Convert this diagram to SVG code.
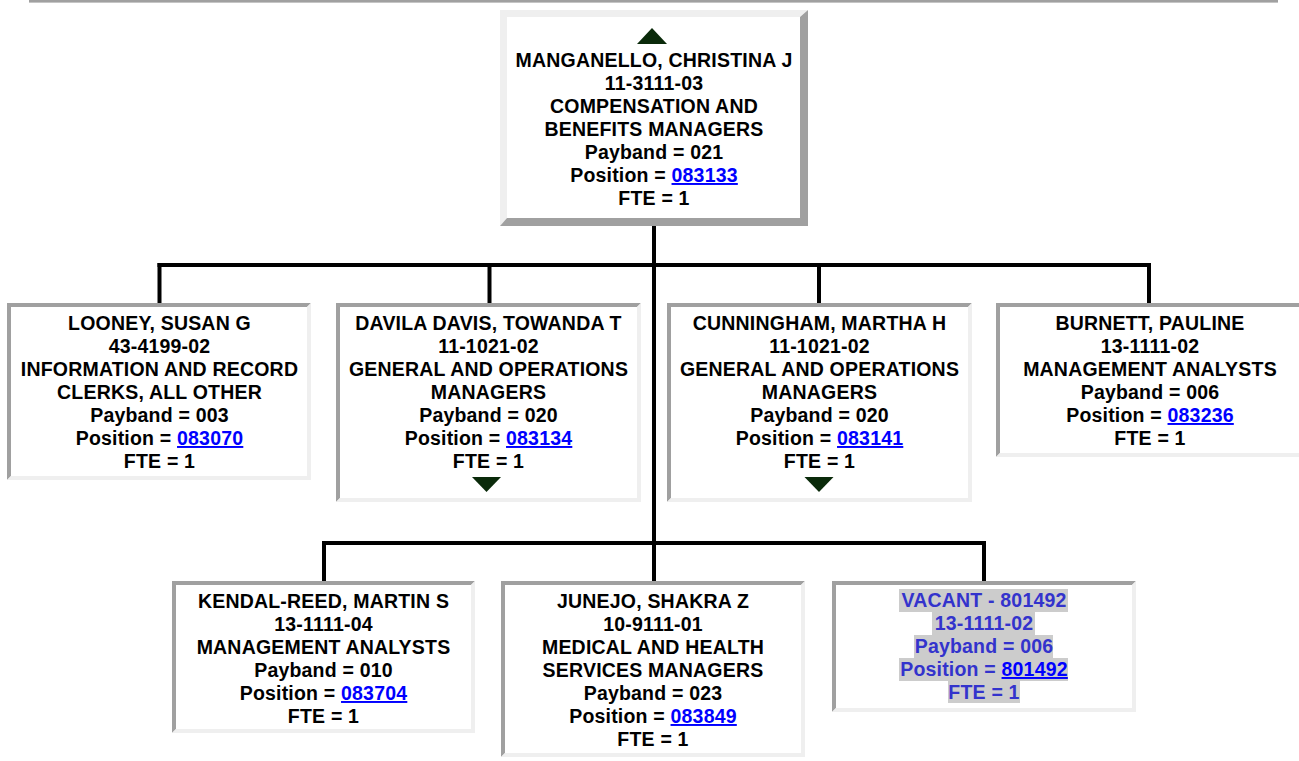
<svg xmlns="http://www.w3.org/2000/svg" width="1299" height="761" viewBox="0 0 1299 761">
<style>
  text { font-family: "Liberation Sans", Arial, sans-serif; font-weight: bold; font-size: 19.5px; letter-spacing: 0.2px; text-anchor: middle; fill: #000; }
  .lnk { fill: #0000ff; text-decoration: underline; }
  .vac { fill: #3333cc; }
  .hl { fill: #cccccc; }
  .dk { fill: #a0a0a0; }
  .lt { fill: #efefef; }
  .tri { fill: #0a2a0a; }
  .con { stroke: #000; stroke-width: 4; fill: none; stroke-linecap: square; }
</style>
<rect width="1299" height="761" fill="#ffffff"/>
<rect x="29" y="0" width="1249" height="2.6" fill="#a0a0a0"/>

<g id="connectors">
  <path class="con" d="M654 226 V579"/>
  <path class="con" d="M159.5 265 H1149"/>
  <path class="con" d="M159.5 265 V301"/>
  <path class="con" d="M489.5 265 V301"/>
  <path class="con" d="M819 265 V301"/>
  <path class="con" d="M1149 265 V301"/>
  <path class="con" d="M324 543 H984"/>
  <path class="con" d="M324 543 V579"/>
  <path class="con" d="M984 543 V579"/>
</g>

<g id="node-manganello">
  <rect x="500" y="10" width="308" height="216" fill="#ffffff"/>
  <polygon class="lt" points="500,10 808,10 800,17 507,17 507,218 500,226"/>
  <polygon class="dk" points="808,10 808,226 500,226 507,218 800,218 800,17"/>
  <polygon class="tri" points="652,28 667,44 637,44"/>
  <text x="654" y="67">MANGANELLO, CHRISTINA J</text>
  <text x="654" y="90">11-3111-03</text>
  <text x="654" y="113">COMPENSATION AND</text>
  <text x="654" y="136">BENEFITS MANAGERS</text>
  <text x="654" y="159">Payband = 021</text>
  <text x="654" y="182">Position = <tspan class="lnk">083133</tspan></text>
  <text x="654" y="205">FTE = 1</text>
</g>

<g id="node-looney">
  <rect x="7" y="303" width="304" height="177" fill="#ffffff"/>
  <polygon class="dk" points="7,303 311,303 307,307 11,307 11,476 7,480"/>
  <polygon class="lt" points="311,303 311,480 7,480 11,476 307,476 307,307"/>
  <text x="159.5" y="330">LOONEY, SUSAN G</text>
  <text x="159.5" y="353">43-4199-02</text>
  <text x="159.5" y="376">INFORMATION AND RECORD</text>
  <text x="159.5" y="399">CLERKS, ALL OTHER</text>
  <text x="159.5" y="422">Payband = 003</text>
  <text x="159.5" y="445">Position = <tspan class="lnk">083070</tspan></text>
  <text x="159.5" y="468">FTE = 1</text>
</g>

<g id="node-davila">
  <rect x="336" y="303" width="305" height="199" fill="#ffffff"/>
  <polygon class="dk" points="336,303 641,303 637,307 340,307 340,498 336,502"/>
  <polygon class="lt" points="641,303 641,502 336,502 340,498 637,498 637,307"/>
  <text x="488.5" y="330">DAVILA DAVIS, TOWANDA T</text>
  <text x="488.5" y="353">11-1021-02</text>
  <text x="488.5" y="376">GENERAL AND OPERATIONS</text>
  <text x="488.5" y="399">MANAGERS</text>
  <text x="488.5" y="422">Payband = 020</text>
  <text x="488.5" y="445">Position = <tspan class="lnk">083134</tspan></text>
  <text x="488.5" y="468">FTE = 1</text>
  <polygon class="tri" points="472,477 501,477 486.5,492"/>
</g>

<g id="node-cunningham">
  <rect x="667" y="303" width="305" height="199" fill="#ffffff"/>
  <polygon class="dk" points="667,303 972,303 968,307 671,307 671,498 667,502"/>
  <polygon class="lt" points="972,303 972,502 667,502 671,498 968,498 968,307"/>
  <text x="819.5" y="330">CUNNINGHAM, MARTHA H</text>
  <text x="819.5" y="353">11-1021-02</text>
  <text x="819.5" y="376">GENERAL AND OPERATIONS</text>
  <text x="819.5" y="399">MANAGERS</text>
  <text x="819.5" y="422">Payband = 020</text>
  <text x="819.5" y="445">Position = <tspan class="lnk">083141</tspan></text>
  <text x="819.5" y="468">FTE = 1</text>
  <polygon class="tri" points="804.5,477 833.5,477 819,492"/>
</g>

<g id="node-burnett">
  <rect x="996" y="303" width="308" height="154" fill="#ffffff"/>
  <polygon class="dk" points="996,303 1304,303 1300,307 1000,307 1000,453 996,457"/>
  <polygon class="lt" points="1304,303 1304,457 996,457 1000,453 1300,453 1300,307"/>
  <text x="1150" y="330">BURNETT, PAULINE</text>
  <text x="1150" y="353">13-1111-02</text>
  <text x="1150" y="376">MANAGEMENT ANALYSTS</text>
  <text x="1150" y="399">Payband = 006</text>
  <text x="1150" y="422">Position = <tspan class="lnk">083236</tspan></text>
  <text x="1150" y="445">FTE = 1</text>
</g>

<g id="node-kendal-reed">
  <rect x="172" y="581" width="303" height="152" fill="#ffffff"/>
  <polygon class="dk" points="172,581 475,581 471,585 176,585 176,729 172,733"/>
  <polygon class="lt" points="475,581 475,733 172,733 176,729 471,729 471,585"/>
  <text x="323.5" y="608">KENDAL-REED, MARTIN S</text>
  <text x="323.5" y="631">13-1111-04</text>
  <text x="323.5" y="654">MANAGEMENT ANALYSTS</text>
  <text x="323.5" y="677">Payband = 010</text>
  <text x="323.5" y="700">Position = <tspan class="lnk">083704</tspan></text>
  <text x="323.5" y="723">FTE = 1</text>
</g>

<g id="node-junejo">
  <rect x="501" y="581" width="304" height="176" fill="#ffffff"/>
  <polygon class="dk" points="501,581 805,581 801,585 505,585 505,753 501,757"/>
  <polygon class="lt" points="805,581 805,757 501,757 505,753 801,753 801,585"/>
  <text x="653" y="608">JUNEJO, SHAKRA Z</text>
  <text x="653" y="631">10-9111-01</text>
  <text x="653" y="654">MEDICAL AND HEALTH</text>
  <text x="653" y="677">SERVICES MANAGERS</text>
  <text x="653" y="700">Payband = 023</text>
  <text x="653" y="723">Position = <tspan class="lnk">083849</tspan></text>
  <text x="653" y="746">FTE = 1</text>
</g>

<g id="node-vacant">
  <rect x="832" y="581" width="304" height="131" fill="#ffffff"/>
  <polygon class="dk" points="832,581 1136,581 1132,585 836,585 836,708 832,712"/>
  <polygon class="lt" points="1136,581 1136,712 832,712 836,708 1132,708 1132,585"/>
  <rect class="hl" x="899" y="589" width="169" height="23"/>
  <rect class="hl" x="932" y="612" width="103" height="23"/>
  <rect class="hl" x="914" y="635" width="139" height="23"/>
  <rect class="hl" x="899" y="658" width="169" height="23"/>
  <rect class="hl" x="948" y="681" width="72" height="22"/>
  <text class="vac" x="984" y="607">VACANT - 801492</text>
  <text class="vac" x="984" y="630">13-1111-02</text>
  <text class="vac" x="984" y="653">Payband = 006</text>
  <text class="vac" x="984" y="676">Position = <tspan class="lnk">801492</tspan></text>
  <text class="vac" x="984" y="699">FTE = 1</text>
</g>
</svg>
